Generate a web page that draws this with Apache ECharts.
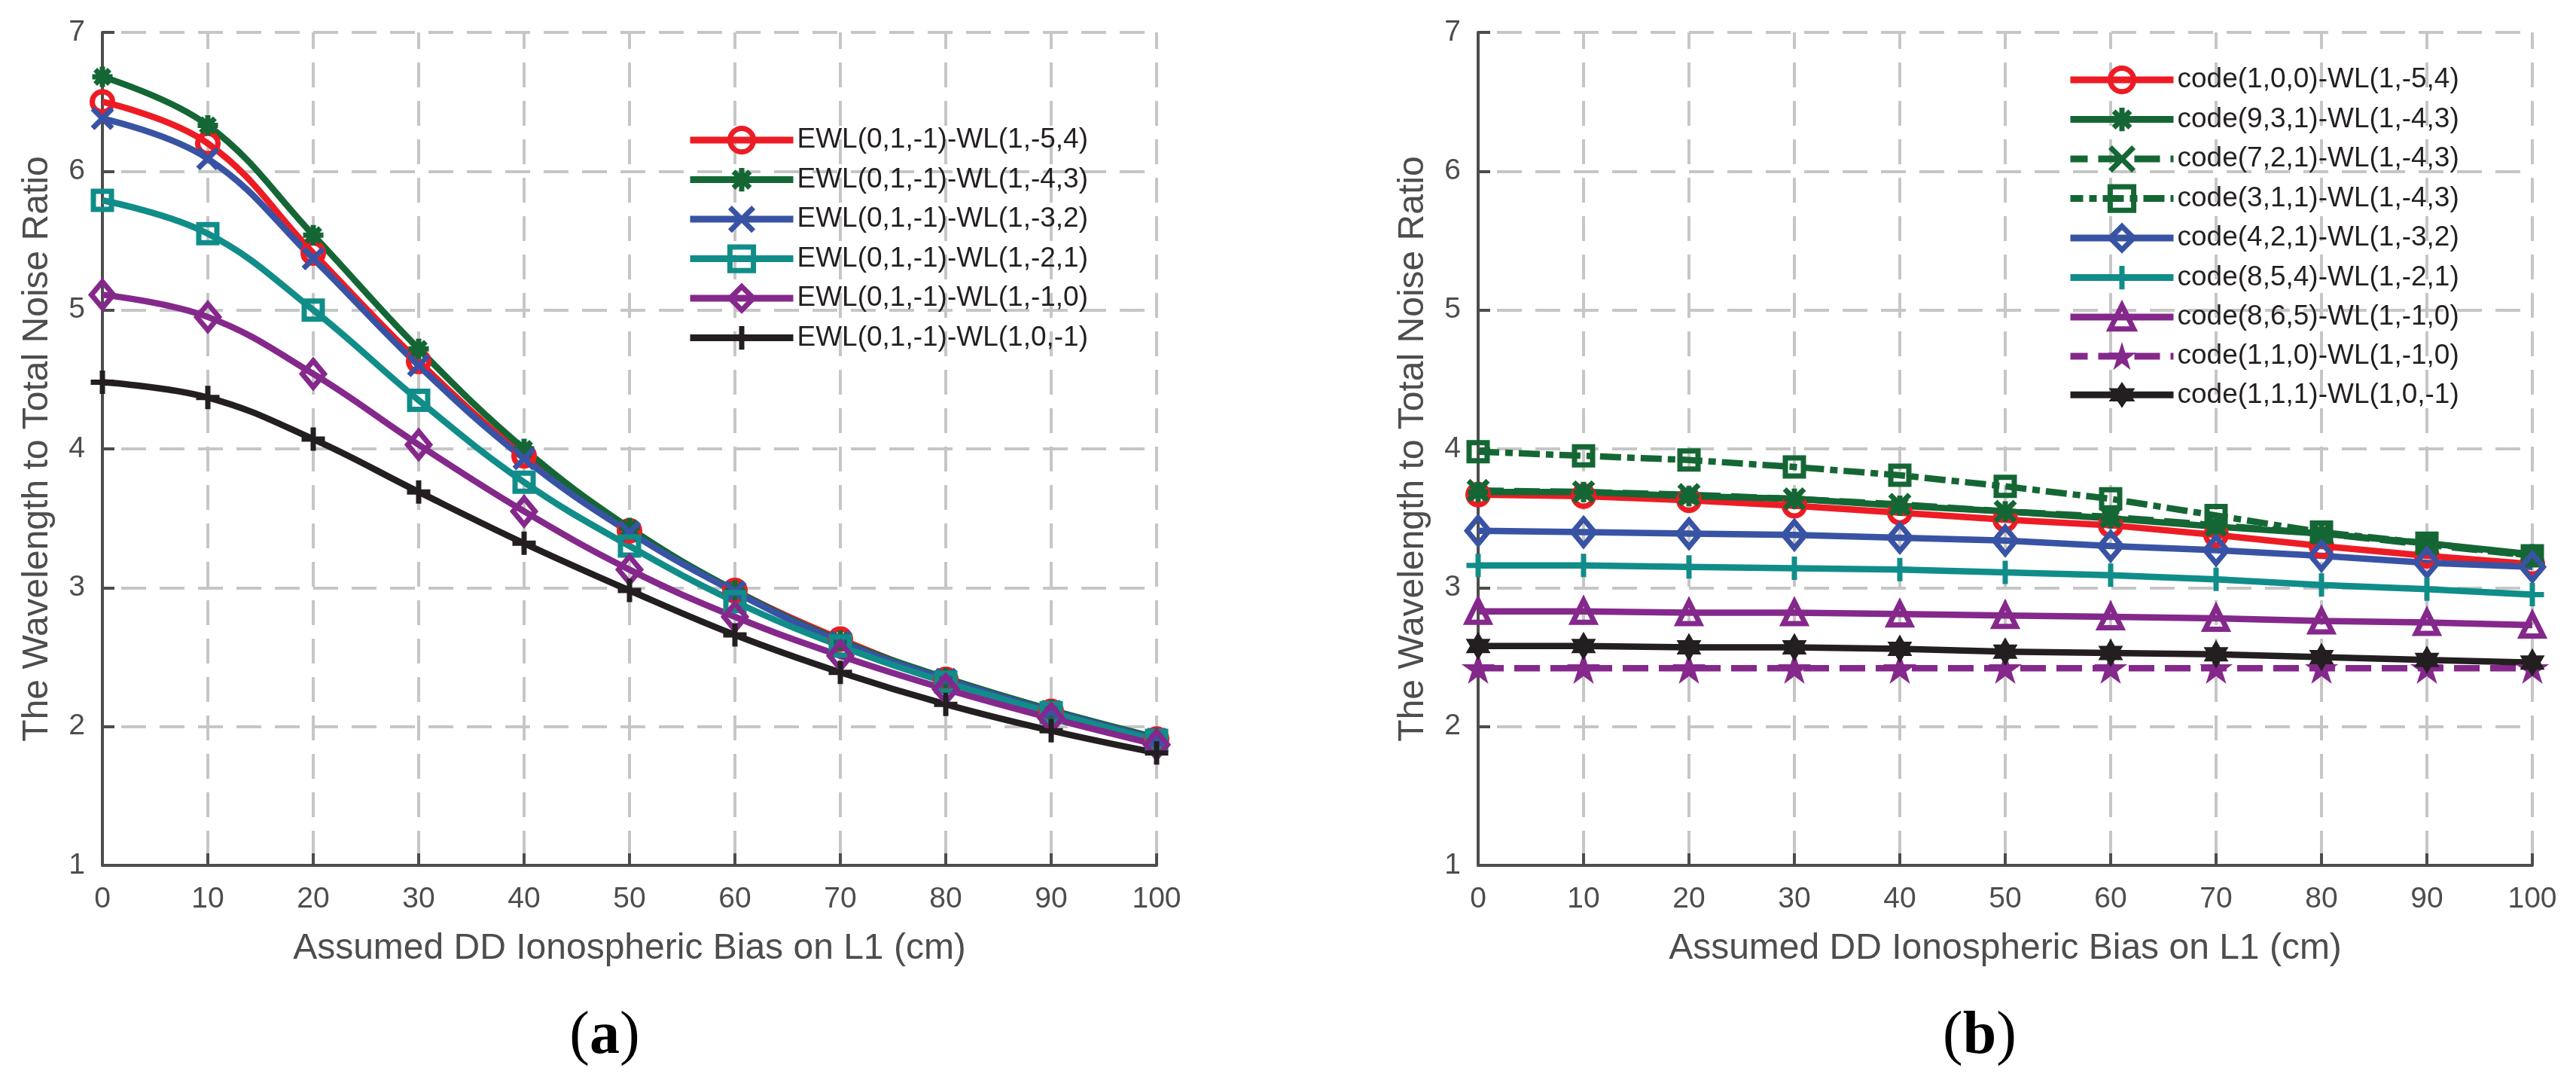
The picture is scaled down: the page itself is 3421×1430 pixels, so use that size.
<!DOCTYPE html>
<html>
<head>
<meta charset="utf-8">
<script src="https://cdn.jsdelivr.net/npm/echarts@6/dist/echarts.min.js"></script>
<style>
  html, body { margin: 0; padding: 0; background: #fff; }
  #chart { width: 3421px; height: 1430px; }
</style>
</head>
<body>
<div id="chart"></div>
<script>
// x positions (cm)
const xVals = [0, 10, 20, 30, 40, 50, 60, 70, 80, 90, 100];

// panel (a)
const namesA = [
  'EWL(0,1,-1)-WL(1,-5,4)', 'EWL(0,1,-1)-WL(1,-4,3)', 'EWL(0,1,-1)-WL(1,-3,2)',
  'EWL(0,1,-1)-WL(1,-2,1)', 'EWL(0,1,-1)-WL(1,-1,0)', 'EWL(0,1,-1)-WL(1,0,-1)'
];
const ewl154 = [6.50, 6.20, 5.41, 4.63, 3.95, 3.41, 2.98, 2.63, 2.34, 2.11, 1.91];
const ewl143 = [6.68, 6.33, 5.54, 4.72, 4.00, 3.43, 2.98, 2.62, 2.35, 2.12, 1.92];
const ewl132 = [6.38, 6.09, 5.37, 4.60, 3.93, 3.40, 2.97, 2.61, 2.34, 2.11, 1.91];
const ewl121 = [5.79, 5.55, 5.00, 4.35, 3.76, 3.30, 2.90, 2.58, 2.32, 2.10, 1.90];
const ewl110 = [5.11, 4.95, 4.54, 4.03, 3.55, 3.13, 2.79, 2.51, 2.27, 2.06, 1.87];
const ewl10m1 = [4.48, 4.37, 4.07, 3.69, 3.32, 2.98, 2.66, 2.39, 2.16, 1.97, 1.81];

// panel (b)
const namesB = [
  'code(1,0,0)-WL(1,-5,4)', 'code(9,3,1)-WL(1,-4,3)', 'code(7,2,1)-WL(1,-4,3)',
  'code(3,1,1)-WL(1,-4,3)', 'code(4,2,1)-WL(1,-3,2)', 'code(8,5,4)-WL(1,-2,1)',
  'code(8,6,5)-WL(1,-1,0)', 'code(1,1,0)-WL(1,-1,0)', 'code(1,1,1)-WL(1,0,-1)'
];
const code100 = [3.67, 3.66, 3.63, 3.59, 3.54, 3.49, 3.45, 3.38, 3.30, 3.23, 3.17];
const code931 = [3.69, 3.69, 3.66, 3.64, 3.59, 3.55, 3.50, 3.44, 3.39, 3.32, 3.24];
const code721 = [3.70, 3.69, 3.67, 3.64, 3.60, 3.55, 3.51, 3.45, 3.39, 3.31, 3.23];
const code311 = [3.98, 3.95, 3.92, 3.87, 3.81, 3.73, 3.64, 3.52, 3.40, 3.32, 3.23];
const code421 = [3.41, 3.40, 3.39, 3.38, 3.36, 3.34, 3.30, 3.27, 3.23, 3.18, 3.15];
const code854 = [3.16, 3.16, 3.15, 3.14, 3.13, 3.11, 3.09, 3.06, 3.02, 2.99, 2.95];
const code865 = [2.83, 2.83, 2.82, 2.82, 2.81, 2.80, 2.79, 2.78, 2.76, 2.75, 2.73];
const code110 = [2.42, 2.42, 2.42, 2.42, 2.42, 2.42, 2.42, 2.42, 2.42, 2.42, 2.42];
const code111 = [2.58, 2.58, 2.57, 2.57, 2.56, 2.54, 2.53, 2.52, 2.50, 2.48, 2.46];

const yTicks = { min: 1, max: 7, interval: 1 };
const xTicks = { min: 0, max: 100, interval: 10 };

const C = {
  red: '#ed1c24', green: '#146734', blue: '#3953a4',
  teal: '#108d89', purple: '#85288b', black: '#231f20'
};
const FONT = 'Liberation Sans';
const AXIS_GRAY = '#4d4d4d';

// marker shapes (matlab style)
const SYM = {
  circle: 'circle',
  asterisk: 'path://M0,-10L0,10M-10,0L10,0M-7,-7L7,7M-7,7L7,-7',
  cross: 'path://M-10,-10L10,10M-10,10L10,-10',
  square: 'rect',
  diamond: 'path://M0,-12L10,0L0,12L-10,0Z',
  plus: 'path://M0,-10L0,10M-10,0L10,0',
  triangle: 'triangle',
  pentagram: 'path://M0,-100L22.45,-30.9L95.1,-30.9L36.3,11.8L58.8,80.9L0,38.2L-58.8,80.9L-36.3,11.8L-95.1,-30.9L-22.45,-30.9Z',
  hexagram: 'path://M0,-100L28.85,-50L86.6,-50L57.7,0L86.6,50L28.85,50L0,100L-28.85,50L-86.6,50L-57.7,0L-86.6,-50L-28.85,-50Z'
};

const LINE_W = 8.5;
const MARK_W = 7;
const filledSet = {};

function mk(idx, name, ys, color, sym, size, opts) {
  opts = opts || {};
  if (opts.filled) filledSet[name] = true;
  return {
    type: 'line',
    name: name,
    xAxisIndex: idx,
    yAxisIndex: idx,
    data: xVals.map((x, i) => [x, ys[i]]),
    smooth: opts.smooth || false,
    symbol: SYM[sym],
    symbolSize: size,
    symbolKeepAspect: true,
    showAllSymbol: true,
    clip: false,
    lineStyle: { color: color, width: LINE_W, type: opts.dash || 'solid' },
    itemStyle: {
      color: opts.filled ? color : 'rgba(0,0,0,0)',
      borderColor: color,
      borderWidth: opts.filled ? 2 : MARK_W
    },
    emphasis: { disabled: true }
  };
}

const dashed = [34, 14];
const dashDot = [28, 8, 10, 8];

const series = [
  mk(0, namesA[0], ewl154, C.red, 'circle', 27, { smooth: 0.4 }),
  mk(0, namesA[1], ewl143, C.green, 'asterisk', 27, { smooth: 0.4 }),
  mk(0, namesA[2], ewl132, C.blue, 'cross', 26, { smooth: 0.4 }),
  mk(0, namesA[3], ewl121, C.teal, 'square', 24, { smooth: 0.4 }),
  mk(0, namesA[4], ewl110, C.purple, 'diamond', 35, { smooth: 0.4 }),
  mk(0, namesA[5], ewl10m1, C.black, 'plus', 31, { smooth: 0.4 }),

  mk(1, namesB[0], code100, C.red, 'circle', 27),
  mk(1, namesB[1], code931, C.green, 'asterisk', 27),
  mk(1, namesB[2], code721, C.green, 'cross', 26, { dash: dashed }),
  mk(1, namesB[3], code311, C.green, 'square', 24, { dash: dashDot }),
  mk(1, namesB[4], code421, C.blue, 'diamond', 35),
  mk(1, namesB[5], code854, C.teal, 'plus', 31),
  mk(1, namesB[6], code865, C.purple, 'triangle', 29),
  mk(1, namesB[7], code110, C.purple, 'pentagram', 38, { dash: dashed, filled: true }),
  mk(1, namesB[8], code111, C.black, 'hexagram', 34, { filled: true })
];

function xAxis(gridIndex) {
  return {
    type: 'value', gridIndex: gridIndex,
    min: xTicks.min, max: xTicks.max, interval: xTicks.interval,
    name: 'Assumed DD Ionospheric Bias on L1 (cm)',
    nameLocation: 'middle', nameGap: 87,
    nameTextStyle: { fontSize: 48, color: AXIS_GRAY, fontFamily: FONT },
    axisLine: { show: true, onZero: false, lineStyle: { color: AXIS_GRAY, width: 4 } },
    axisTick: { show: true, inside: true, length: 16, lineStyle: { color: AXIS_GRAY, width: 4 } },
    axisLabel: { fontSize: 39, color: AXIS_GRAY, fontFamily: FONT, margin: 26 },
    splitLine: { show: true, lineStyle: { color: '#c6c6c6', width: 4, type: [33, 18], dashOffset: 11 } }
  };
}
function yAxis(gridIndex) {
  return {
    type: 'value', gridIndex: gridIndex,
    min: yTicks.min, max: yTicks.max, interval: yTicks.interval,
    name: 'The Wavelength to Total Noise Ratio',
    nameLocation: 'middle', nameGap: 62,
    nameTextStyle: { fontSize: 48, color: AXIS_GRAY, fontFamily: FONT },
    axisLine: { show: true, onZero: false, lineStyle: { color: AXIS_GRAY, width: 4 } },
    axisTick: { show: true, inside: true, length: 16, lineStyle: { color: AXIS_GRAY, width: 4 } },
    axisLabel: { fontSize: 39, color: AXIS_GRAY, fontFamily: FONT, margin: 23 },
    splitLine: { show: true, lineStyle: { color: '#c6c6c6', width: 4, type: [33, 18], dashOffset: 26 } }
  };
}

function legend(names, left, top) {
  return {
    data: names.map(n => ({
      name: n,
      itemStyle: { borderWidth: filledSet[n] ? 2 : MARK_W }
    })),
    orient: 'vertical', left: left, top: top, padding: 0,
    itemWidth: 137, itemHeight: 39, itemGap: 14.3,
    selectedMode: false,
    lineStyle: { width: 9 },
    textStyle: { fontSize: 37, color: C.black, fontFamily: FONT }
  };
}

function caption(letter, x) {
  return {
    type: 'text', x: x, y: 1377,
    style: {
      text: '{p|(}{b|' + letter + '}{p|)}',
      align: 'center', verticalAlign: 'middle',
      rich: {
        p: { fontSize: 80, fontFamily: 'Liberation Serif', fill: '#000' },
        b: { fontSize: 80, fontFamily: 'Liberation Serif', fontWeight: 'bold', fill: '#000' }
      }
    }
  };
}

const chart = echarts.init(document.getElementById('chart'));
chart.setOption({
  backgroundColor: '#fff',
  animation: false,
  grid: [
    { left: 136, top: 43, width: 1400, height: 1106 },
    { left: 1963, top: 43, width: 1400, height: 1106 }
  ],
  xAxis: [xAxis(0), xAxis(1)],
  yAxis: [yAxis(0), yAxis(1)],
  legend: [legend(namesA, 912, 167), legend(namesB, 2745, 87)],
  graphic: [caption('a', 803), caption('b', 2629)],
  series: series
});
</script>
</body>
</html>
